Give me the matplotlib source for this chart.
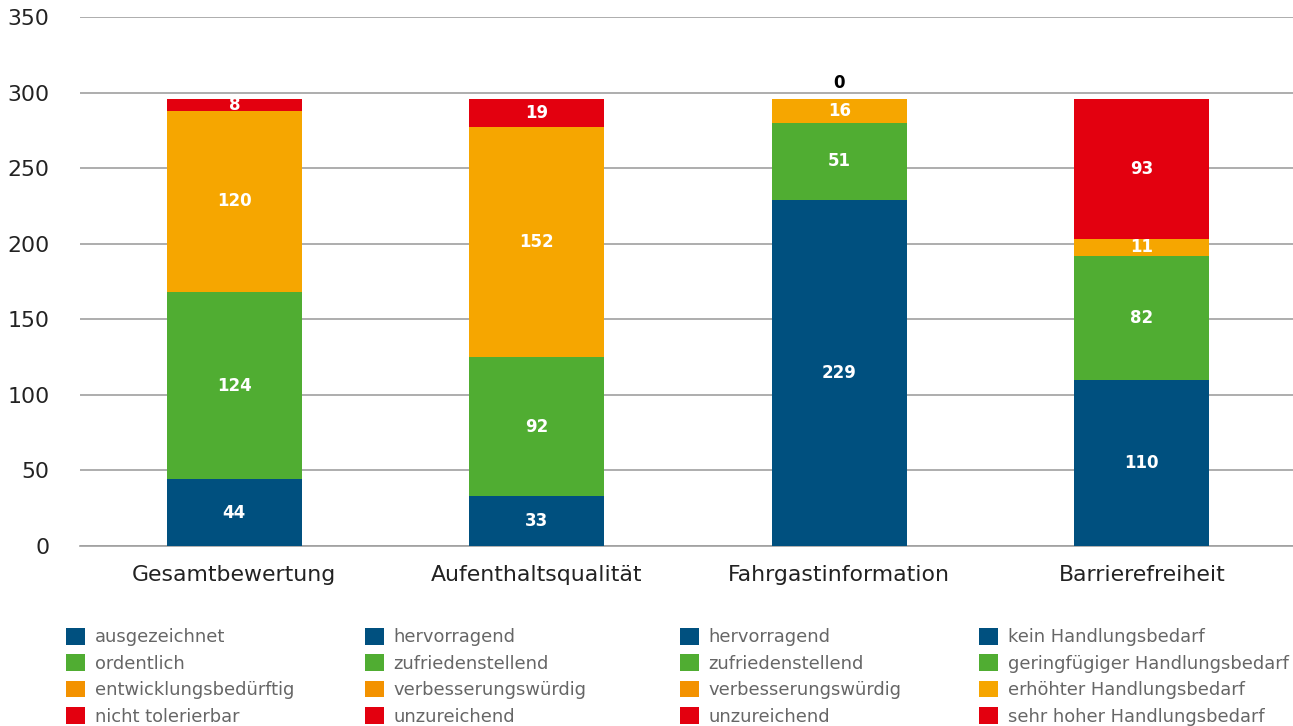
import matplotlib
matplotlib.use("Agg")
import matplotlib.pyplot as plt
from matplotlib.patches import Patch
import numpy as np

plt.rcParams['font.family'] = ['DejaVu Sans']

categories = ["Gesamtbewertung", "Aufenthaltsqualität", "Fahrgastinformation", "Barrierefreiheit"]
level1 = [44, 33, 229, 110]   # blue
level2 = [124, 92, 51, 82]    # green
level3 = [120, 152, 16, 11]   # orange
level4 = [8, 19, 0, 93]       # red

legend_labels = [
    ["ausgezeichnet", "ordentlich", "entwicklungsbedürftig", "nicht tolerierbar"],
    ["hervorragend", "zufriedenstellend", "verbesserungswürdig", "unzureichend"],
    ["hervorragend", "zufriedenstellend", "verbesserungswürdig", "unzureichend"],
    ["kein Handlungsbedarf", "geringfügiger Handlungsbedarf", "erhöhter Handlungsbedarf", "sehr hoher Handlungsbedarf"],
]
yticks = [0, 50, 100, 150, 200, 250, 300, 350]

BLUE = "#00507F"
GREEN = "#50AD32"
ORANGE = "#F6A600"
ORANGE_LEG = "#F39200"
RED = "#E3000F"
colors = [BLUE, GREEN, ORANGE, RED]

W, H = 1293, 726
fig = plt.figure(figsize=(W / 100, H / 100), dpi=100)
ax = fig.add_axes([80 / W, 1 - 546 / H, 1 - 80 / W, (546 - 17) / H])

x = np.arange(len(categories))
series = [level1, level2, level3, level4]
bottom = np.zeros(len(categories))
bar_containers = []
for vals, c in zip(series, colors):
    bc = ax.bar(x, vals, bottom=bottom, width=0.446, color=c, zorder=3)
    bar_containers.append((bc, vals))
    bottom = bottom + np.array(vals)

for bc, vals in bar_containers:
    labels = [str(v) if v != 0 else "" for v in vals]
    ax.bar_label(bc, labels=labels, label_type='center', color='white',
                 fontsize=12, fontweight='bold', zorder=4)
    for rect, v in zip(bc, vals):
        if v == 0:
            ax.annotate("0", (rect.get_x() + rect.get_width() / 2, rect.get_y()),
                        xytext=(0, 5), textcoords='offset points', ha='center', va='bottom',
                        fontsize=12, fontweight='bold', color='black')

ax.set_xlim(-0.51, len(categories) - 0.5)
ax.set_ylim(0, 350)
ax.set_yticks(yticks)
ax.set_xticks(x)
ax.set_xticklabels(categories)
ax.tick_params(axis='y', length=0, pad=22, labelsize=15.8, labelcolor='#222222')
ax.tick_params(axis='x', length=0, pad=14, labelsize=15.8, labelcolor='#222222')
ax.grid(axis='y', color='#A0A0A0', linewidth=1.2, zorder=0)
ax.set_axisbelow(True)
for s in ['top', 'right', 'left']:
    ax.spines[s].set_visible(False)
ax.spines['bottom'].set_color('#A0A0A0')
ax.spines['bottom'].set_linewidth(1.2)

col_x = [66, 365, 680, 979]
for ci, (labs, cx) in enumerate(zip(legend_labels, col_x)):
    cols = [BLUE, GREEN, ORANGE_LEG if ci < 3 else ORANGE, RED]
    handles = [Patch(facecolor=c, edgecolor='none') for c in cols]
    leg = fig.legend(handles, labs, loc='upper left', bbox_to_anchor=(cx / W, 1 - 628 / H),
                     frameon=False, borderpad=0, borderaxespad=0, fontsize=12.9,
                     handlelength=1.04, handleheight=1.06, handletextpad=0.56,
                     labelspacing=0.44)
    for t in leg.get_texts():
        t.set_color('#666666')

fig.savefig("out.png", dpi=100)
